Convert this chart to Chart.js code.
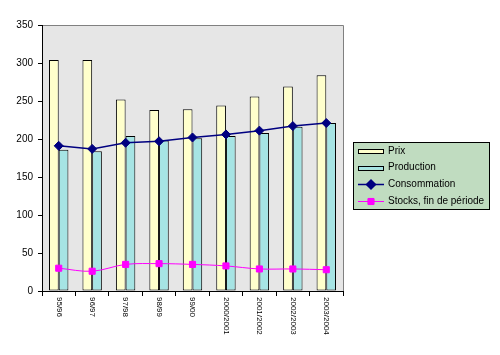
<!DOCTYPE html>
<html><head><meta charset="utf-8">
<script src="https://cdn.jsdelivr.net/npm/chart.js@4"></script>
<style>html,body{margin:0;padding:0;background:#fff}canvas{display:block}</style>
</head><body>
<canvas id="c" width="500" height="355"></canvas>
<script>
const categories = ['95/96','96/97','97/98','98/99','99/00','2000/2001','2001/2002','2002/2003','2003/2004'];
const prix = [304,304,252,238,239,244,256,269,284];
const production = [186,184,204,198,201,204,208,216,221];
const consommation = [191,187,195,197,202,206,211,217,221];
const stocks = [30,26,35,36,35,33,29,29,28];
const seriesNames = ['Prix','Production','Consommation','Stocks, fin de période'];

Chart.defaults.font.family = '"Liberation Sans", Arial, sans-serif';
Chart.defaults.color = '#000';

const plotBg = {
  id:'plotBg',
  beforeDraw(chart){
    const {ctx, chartArea:a} = chart;
    ctx.save();
    ctx.fillStyle = '#E6E6E6';
    ctx.fillRect(a.left, a.top, a.right-a.left, a.bottom-a.top);
    ctx.strokeStyle = '#808080';
    ctx.lineWidth = 1;
    ctx.beginPath();
    ctx.moveTo(a.left, a.top+0.5); ctx.lineTo(a.right+0.5, a.top+0.5); ctx.lineTo(a.right+0.5, a.bottom);
    ctx.stroke();
    ctx.restore();
  }
};

const xLabels = {
  id:'xLabels',
  afterDraw(chart){
    const {ctx} = chart;
    const xs = chart.scales.x;
    ctx.save();
    ctx.fillStyle = '#000';
    ctx.font = '8px "Liberation Sans", Arial, sans-serif';
    ctx.textAlign = 'left';
    ctx.textBaseline = 'middle';
    chart.data.labels.forEach((lab, i) => {
      const x = xs.getPixelForValue(i);
      ctx.save();
      ctx.translate(x, xs.top + 6);
      ctx.rotate(Math.PI/2);
      ctx.fillText(lab, 0, 0);
      ctx.restore();
    });
    ctx.restore();
  }
};

const boxLegend = {
  id:'boxLegend',
  afterDraw(chart){
    const {ctx} = chart;
    const L = 353, T = 142, W = 136, H = 67;
    ctx.save();
    ctx.fillStyle = '#C0DCC0';
    ctx.fillRect(L, T, W, H);
    ctx.strokeStyle = '#000';
    ctx.lineWidth = 1;
    ctx.strokeRect(L+0.5, T+0.5, W, H);
    ctx.font = '10px "Liberation Sans", Arial, sans-serif';
    ctx.textBaseline = 'middle';
    ctx.textAlign = 'left';
    chart.data.datasets.forEach((ds, i) => {
      const y = T + 9 + i*16.7;
      if (ds.type === 'bar') {
        ctx.fillStyle = ds.backgroundColor;
        ctx.fillRect(358, y-2, 26, 4);
        ctx.strokeStyle = '#000';
        ctx.strokeRect(358.5, Math.round(y-2)+0.5, 25, 4);
      } else {
        ctx.strokeStyle = ds.borderColor;
        ctx.lineWidth = ds.borderWidth;
        ctx.beginPath(); ctx.moveTo(358, Math.round(y)+0.5); ctx.lineTo(384, Math.round(y)+0.5); ctx.stroke();
        Chart.helpers.drawPoint(ctx, {pointStyle: ds.pointStyle, radius: ds.pointRadius, borderWidth: 1}, 371, Math.round(y)+0.5);
        ctx.fillStyle = ds.backgroundColor;
        ctx.fill();
      }
      ctx.fillStyle = '#000';
      ctx.fillText(ds.label, 388, y);
    });
    ctx.restore();
  }
};

new Chart(document.getElementById('c'), {
  type:'bar',
  data:{
    labels: categories,
    datasets:[
      {type:'bar', label:seriesNames[0], data:prix, backgroundColor:'#FFFFCC', borderColor:'#000', borderWidth:1, borderSkipped:false, order:2},
      {type:'bar', label:seriesNames[1], data:production, backgroundColor:'#A6E4E4', borderColor:'#000', borderWidth:1, borderSkipped:false, order:2},
      {type:'line', label:seriesNames[2], data:consommation, borderColor:'#000080', backgroundColor:'#000080', borderWidth:1.5, pointStyle:'rectRot', pointRadius:4.5, pointBorderWidth:1, tension:0, order:1},
      {type:'line', label:seriesNames[3], data:stocks, borderColor:'#FF00FF', backgroundColor:'#FF00FF', borderWidth:1, pointStyle:'rect', pointRadius:4.3, pointBorderWidth:1, tension:0.35, order:1}
    ]
  },
  options:{
    responsive:false, animation:false, devicePixelRatio:1,
    layout:{padding:{top:25, right:157, left:0, bottom:0}},
    plugins:{legend:{display:false}, tooltip:{enabled:false}},
    datasets:{bar:{categoryPercentage:0.58, barPercentage:1}},
    scales:{
      x:{
        offset:true,
        grid:{offset:true, drawOnChartArea:false, tickLength:5, color:'#000'},
        border:{color:'#000'},
        ticks:{display:false},
        afterFit(s){ s.height = 64; }
      },
      y:{
        min:0, max:350,
        ticks:{stepSize:50, color:'#000', font:{size:10}, padding:5},
        grid:{drawOnChartArea:false, tickLength:4, color:'#000'},
        border:{color:'#000'},
        afterFit(s){ s.width = 42; }
      }
    }
  },
  plugins:[plotBg, xLabels, boxLegend]
});
</script>
</body></html>
